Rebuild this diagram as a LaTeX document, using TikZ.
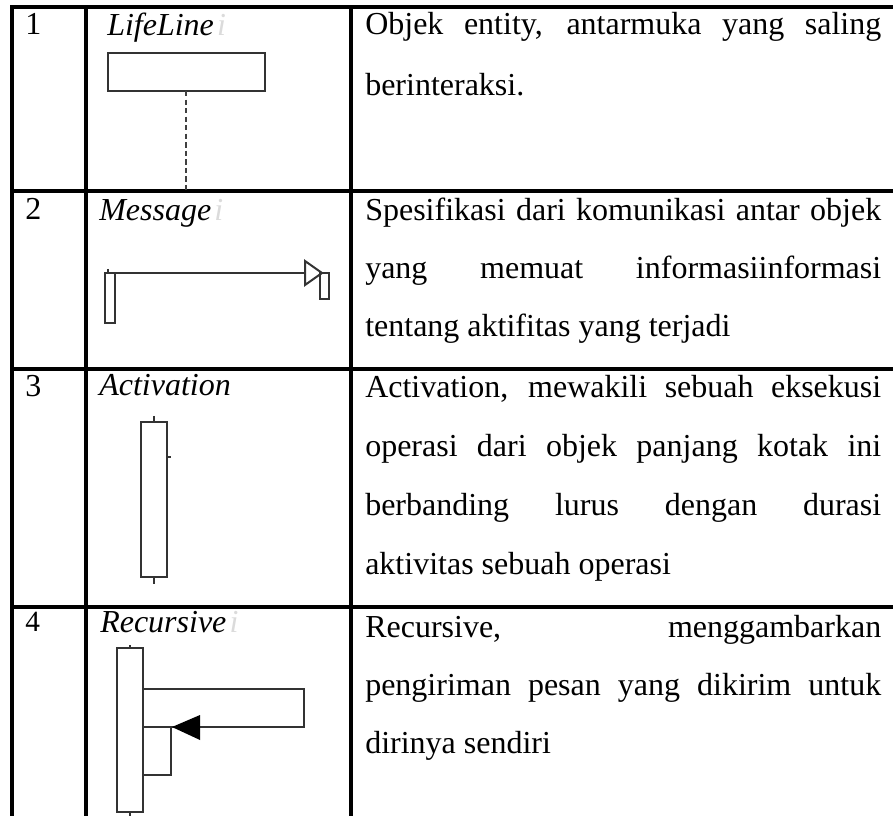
\documentclass[tikz,border=0pt]{standalone}
\usepackage{fontspec}
\setmainfont{Liberation Serif}
\begin{document}
\begin{tikzpicture}[x=0.75pt,y=-0.75pt,
  grid/.style={line width=2.3pt, draw=black},
  txt/.style={anchor=base west, inner sep=0pt, font=\fontsize{24}{29}\selectfont},
  lab/.style={anchor=base west, inner sep=0pt, font=\fontsize{24}{29}\selectfont\itshape},
  ghost/.style={lab, text=black!14},
  uml/.style={draw=black!80, line width=1.5pt},
  lifedash/.style={draw=black!75, line width=2.1pt, dash pattern=on 4pt off 2.4pt}
]
\useasboundingbox (0,0) rectangle (893,816);

% table grid
\draw[grid] (12,816) -- (12,7) -- (893,7);
\draw[grid] (86,7) -- (86,816);
\draw[grid] (351,7) -- (351,816);
\draw[grid] (12,191) -- (893,191);
\draw[grid] (12,369) -- (893,369);
\draw[grid] (12,607) -- (893,607);

% numbers
\node[txt] (n1) at (25,35) {1};
\node[txt] (n2) at (25,220) {2};
\node[txt] (n3) at (25,397) {3};
\node[txt, font=\fontsize{22}{26}\selectfont] (n4) at (25,631) {4};

% labels
\node[lab] (l1) at (107,36) {LifeLine};
\node[ghost] (l1i) at ([xshift=2pt]l1.base east) {i};
\node[lab] (l2) at (99,221) {Message};
\node[ghost] (l2i) at ([xshift=2pt]l2.base east) {i};
\node[lab] (l3) at (99,396) {Activation};
\node[lab] (l4) at (100,632) {Recursive};
\node[ghost] (l4i) at ([xshift=2pt]l4.base east) {i};

% descriptions
\node[txt] (d1a) at (365,35) {\makebox[387pt][s]{Objek entity, antarmuka yang saling}};
\node[txt] (d1b) at (365,96) {berinteraksi.};

\node[txt] (d2a) at (365,221) {\makebox[387pt][s]{Spesifikasi dari komunikasi antar objek}};
\node[txt] (d2b) at (365,279) {\makebox[387pt][s]{yang memuat informasiinformasi}};
\node[txt] (d2c) at (365,337) {tentang aktifitas yang terjadi};

\node[txt] (d3a) at (365,398) {\makebox[387pt][s]{Activation, mewakili sebuah eksekusi}};
\node[txt] (d3b) at (365,457) {\makebox[387pt][s]{operasi dari objek panjang kotak ini}};
\node[txt] (d3c) at (365,516) {\makebox[387pt][s]{berbanding lurus dengan durasi}};
\node[txt] (d3d) at (365,575) {aktivitas sebuah operasi};

\node[txt] (d4a) at (365,637) {\makebox[387pt][s]{Recursive, menggambarkan}};
\node[txt] (d4b) at (365,695) {\makebox[387pt][s]{pengiriman pesan yang dikirim untuk}};
\node[txt] (d4c) at (365,753) {dirinya sendiri};

% Lifeline symbol
\draw[uml] (108,53) rectangle (265,91);
\draw[lifedash] (186,91) -- (186,191);

% Message symbol
\draw[uml] (105,273) rectangle (115,323);
\draw[uml] (108,269) -- (108,273);
\draw[uml] (108,273) -- (305,273);
\draw[uml] (305,261) -- (322,273) -- (305,285) -- cycle;
\draw[uml] (320,273) rectangle (329,299);

% Activation symbol
\draw[uml] (141,422) rectangle (167,577);
\draw[uml] (154,416) -- (154,422);
\draw[uml] (154,577) -- (154,584);
\draw[uml] (167,457) -- (171,457);

% Recursive symbol
\draw[uml] (117,648) rectangle (143,812);
\draw[uml] (130,645) -- (130,648);
\draw[uml] (130,812) -- (130,816);
\draw[uml] (143,689) -- (304,689) -- (304,727) -- (143,727);
\fill[black] (172,727) -- (200,715) -- (200,740) -- cycle;
\draw[uml] (171,727) -- (171,775) -- (143,775);
\end{tikzpicture}
\end{document}
